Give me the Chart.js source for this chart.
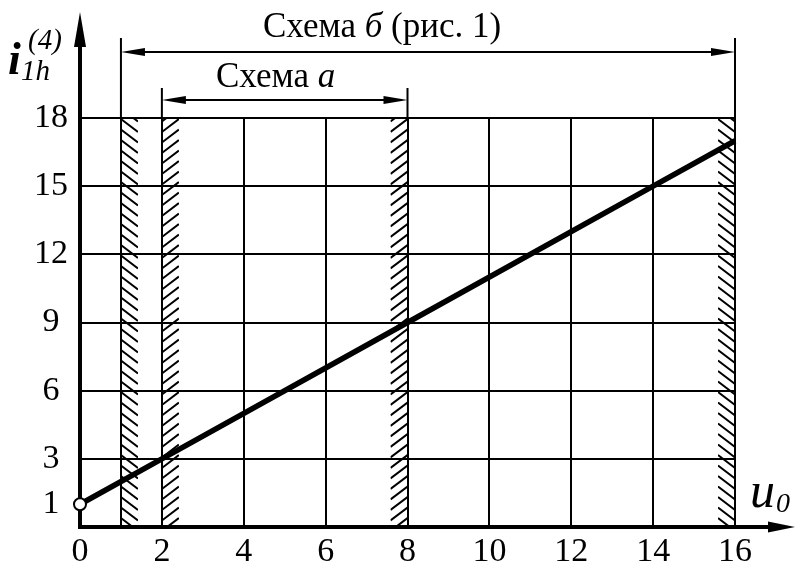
<!DOCTYPE html>
<html>
<head>
<meta charset="utf-8">
<script src="https://cdn.jsdelivr.net/npm/chart.js@4/dist/chart.umd.min.js"></script>
<style>
  body { margin: 0; background: #fff; }
  canvas { display: block; }
</style>
</head>
<body>
<canvas id="iChart" width="795" height="568"></canvas>
<script>
// values
var xTicks = [0, 1, 2, 4, 6, 8, 10, 12, 14, 16];
var yTicks = [1, 3, 6, 9, 12, 15, 18];
var lineU = [0, 2, 8, 14, 16];
var lineI = [1, 3, 9, 15, 17];
var hatchAt = [1, 2, 8, 16];
var schemeA = [2, 8];
var schemeB = [1, 16];
var labelA = 'Схема ';
var labelB = 'Схема ';

var serif = '"Liberation Serif", "Times New Roman", serif';

function arrowHead(ctx, tx, ty, dx, dy, len, hw) {
    // tip at (tx,ty), pointing along (dx,dy)
    var bx = tx - dx * len, by = ty - dy * len;
    ctx.beginPath();
    ctx.moveTo(tx, ty);
    ctx.lineTo(bx - dy * hw, by + dx * hw);
    ctx.lineTo(bx + dy * hw, by - dx * hw);
    ctx.closePath();
    ctx.fill();
}

function hatch(ctx, x0, x1, top, bottom, back) {
    ctx.save();
    ctx.beginPath();
    ctx.rect(x0, top, x1 - x0, bottom - top);
    ctx.clip();
    ctx.beginPath();
    for (var yy = top - 20; yy < bottom + 20; yy += 10.5) {
        if (back) { ctx.moveTo(x0, yy); ctx.lineTo(x1, yy + 13); }
        else { ctx.moveTo(x0, yy + 13); ctx.lineTo(x1, yy); }
    }
    ctx.lineWidth = 2;
    ctx.strokeStyle = '#000';
    ctx.stroke();
    ctx.restore();
}

// pieces of text drawn one after another, some italic
function runText(ctx, parts, x, y) {
    parts.forEach(function(p) {
        ctx.font = p[1];
        ctx.fillText(p[0], x, y);
        x += ctx.measureText(p[0]).width;
    });
}

var decorPlugin = {
    id: 'decor',
    beforeDatasetsDraw: function(chart) {
        var ctx = chart.ctx, xs = chart.scales.x, ys = chart.scales.y;
        var top = ys.getPixelForValue(18), bottom = ys.getPixelForValue(0);
        var w = 17;
        // 1 and 2: band to the right, 8 and 16: band to the left
        hatch(ctx, xs.getPixelForValue(hatchAt[0]), xs.getPixelForValue(hatchAt[0]) + w, top, bottom, true);
        hatch(ctx, xs.getPixelForValue(hatchAt[1]), xs.getPixelForValue(hatchAt[1]) + w, top, bottom, false);
        hatch(ctx, xs.getPixelForValue(hatchAt[2]) - w, xs.getPixelForValue(hatchAt[2]), top, bottom, false);
        hatch(ctx, xs.getPixelForValue(hatchAt[3]) - w, xs.getPixelForValue(hatchAt[3]), top, bottom, true);
    },
    afterDraw: function(chart) {
        var ctx = chart.ctx, xs = chart.scales.x, ys = chart.scales.y;
        var area = chart.chartArea;
        ctx.save();
        ctx.fillStyle = '#000';
        ctx.strokeStyle = '#000';

        // axis arrows
        ctx.lineWidth = 4;
        ctx.beginPath();
        ctx.moveTo(area.left, area.top);
        ctx.lineTo(area.left, 30);
        ctx.moveTo(area.right, area.bottom);
        ctx.lineTo(775, area.bottom);
        ctx.stroke();
        arrowHead(ctx, area.left, 12, 0, -1, 35, 6);
        arrowHead(ctx, 795, area.bottom, 1, 0, 27, 5.5);

        // dimension lines for the two schemes
        ctx.lineWidth = 2;
        var bl = xs.getPixelForValue(schemeB[0]), br = xs.getPixelForValue(schemeB[1]);
        var al = xs.getPixelForValue(schemeA[0]), ar = xs.getPixelForValue(schemeA[1]);
        var yb = area.top - 66, ya = area.top - 18;
        ctx.beginPath();
        ctx.moveTo(bl, area.top); ctx.lineTo(bl, area.top - 80);
        ctx.moveTo(br, area.top); ctx.lineTo(br, area.top - 80);
        ctx.moveTo(al, area.top); ctx.lineTo(al, area.top - 30);
        ctx.moveTo(ar, area.top); ctx.lineTo(ar, area.top - 30);
        ctx.moveTo(bl + 10, yb); ctx.lineTo(br - 10, yb);
        ctx.moveTo(al + 10, ya); ctx.lineTo(ar - 10, ya);
        ctx.stroke();
        arrowHead(ctx, bl, yb, -1, 0, 24, 4);
        arrowHead(ctx, br, yb, 1, 0, 24, 4);
        arrowHead(ctx, al, ya, -1, 0, 24, 4);
        arrowHead(ctx, ar, ya, 1, 0, 24, 4);

        ctx.textBaseline = 'alphabetic';
        ctx.textAlign = 'left';
        runText(ctx, [[labelB, '35px ' + serif], ['б', 'italic 35px ' + serif], [' (рис. 1)', '35px ' + serif]], 263, 37);
        runText(ctx, [[labelA, '35px ' + serif], ['a', 'italic 35px ' + serif]], 216, 87);

        // axis titles
        ctx.font = 'bold italic 46px ' + serif;
        ctx.fillText('i', 8, 74);
        ctx.font = 'italic 29px ' + serif;
        ctx.fillText('1h', 21, 80);
        ctx.fillText('(4)', 28, 49);
        ctx.font = 'italic 50px ' + serif;
        ctx.fillText('u', 750, 507);
        ctx.font = 'italic 28px ' + serif;
        ctx.fillText('0', 776, 512);
        ctx.restore();
    }
};

document.addEventListener('DOMContentLoaded', function() {
    var pts = lineU.map(function(u, k) { return { x: u, y: lineI[k] }; });
    var tickFont = { family: serif, size: 34 };

    new Chart(document.getElementById('iChart').getContext('2d'), {
        type: 'scatter',
        data: {
            datasets: [{
                data: pts,
                showLine: true,
                borderColor: '#000',
                borderWidth: 5.5,
                clip: false,
                pointRadius: function(c) { return c.dataIndex === 0 ? 6 : 0; },
                pointBackgroundColor: '#fff',
                pointBorderColor: '#000',
                pointBorderWidth: 2
            }]
        },
        options: {
            responsive: false,
            animation: false,
            layout: { padding: { top: 118, right: 60, left: 0, bottom: 0 } },
            plugins: { legend: { display: false }, tooltip: { enabled: false } },
            scales: {
                x: {
                    type: 'linear', min: 0, max: 16,
                    afterBuildTicks: function(s) { s.ticks = xTicks.map(function(v) { return { value: v }; }); },
                    afterFit: function(s) { s.height = 41; },
                    ticks: {
                        autoSkip: false, maxRotation: 0, padding: 5, color: '#000', font: tickFont,
                        callback: function(v) { return v === 1 ? '' : v; }
                    },
                    grid: {
                        drawTicks: false, lineWidth: 2,
                        color: function(c) { return c.tick && c.tick.value === 0 ? 'rgba(0,0,0,0)' : '#000'; }
                    },
                    border: { color: '#000', width: 4 }
                },
                y: {
                    type: 'linear', min: 0, max: 18,
                    afterBuildTicks: function(s) { s.ticks = yTicks.map(function(v) { return { value: v }; }); },
                    afterFit: function(s) { s.width = 80; },
                    ticks: { autoSkip: false, padding: 12, crossAlign: 'center', color: '#000', font: tickFont },
                    grid: {
                        drawTicks: false, lineWidth: 2,
                        color: function(c) { return c.tick && c.tick.value === 1 ? 'rgba(0,0,0,0)' : '#000'; }
                    },
                    border: { color: '#000', width: 4 }
                }
            }
        },
        plugins: [decorPlugin]
    });
});
</script>
</body>
</html>
